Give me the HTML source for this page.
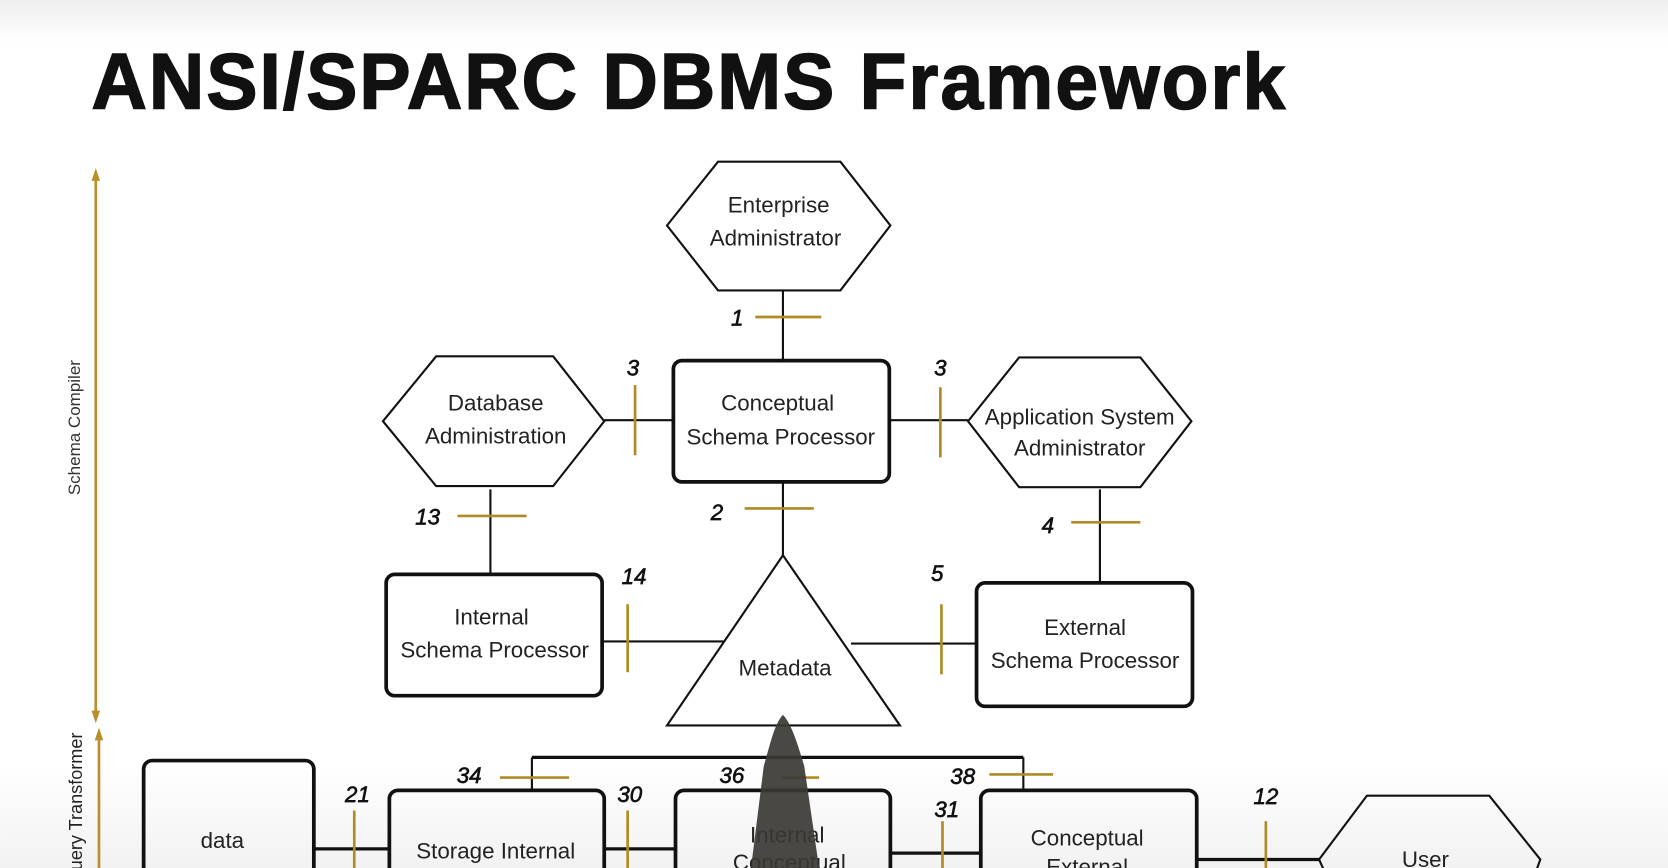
<!DOCTYPE html>
<html><head><meta charset="utf-8"><style>
html,body{margin:0;padding:0;width:1668px;height:868px;overflow:hidden;background:#fff}
svg{display:block}
text{font-family:"Liberation Sans",sans-serif}
</style></head><body>
<svg width="1668" height="868" viewBox="0 0 1568 816" xmlns="http://www.w3.org/2000/svg">
<defs>
<linearGradient id="bg" x1="0" y1="0" x2="0" y2="1">
<stop offset="0" stop-color="#efefef"/><stop offset="0.05" stop-color="#fff"/>
<stop offset="0.88" stop-color="#fff"/><stop offset="1" stop-color="#f2f2f2"/>
</linearGradient>
</defs>
<rect width="1568" height="816" fill="url(#bg)"/>
<text x="86" y="102" font-size="74" font-weight="bold" letter-spacing="2" fill="#111" stroke="#111" stroke-width="1.5" textLength="1124" lengthAdjust="spacingAndGlyphs">ANSI/SPARC DBMS Framework</text>

<g stroke="#b8902a" stroke-width="2.5" fill="#b8902a">
<line x1="90" y1="162" x2="90" y2="676"/>
<polygon points="86,170 90,158 94,170" stroke="none"/>
<polygon points="86,668 90,680 94,668" stroke="none"/>
<line x1="93" y1="688" x2="93" y2="816"/>
<polygon points="89,696 93,684 97,696" stroke="none"/>
</g>
<text transform="translate(75,402) rotate(-90)" font-size="16" fill="#333" text-anchor="middle">Schema Compiler</text>
<text transform="translate(77,760) rotate(-90)" font-size="17" fill="#222" text-anchor="middle">Query Transformer</text>

<g fill="none" stroke="#111" stroke-width="2">
<polygon points="627,212 675,152 790,152 837,212 790,273 675,273"/>
<polygon points="360,396 410,335 520,335 568,396 520,457 410,457"/>
<polygon points="910,396 958,336 1072,336 1120,396 1072,458 958,458"/>
<polygon points="1240,808 1285,748 1400,748 1448,808 1440,830 1250,830"/>
<rect x="633" y="339" width="203" height="114" rx="8" stroke-width="3.5"/>
<rect x="363" y="540" width="203" height="114" rx="8" stroke-width="3.5"/>
<rect x="918" y="548" width="203" height="116" rx="8" stroke-width="3.5"/>
<rect x="135" y="715" width="160" height="130" rx="8" stroke-width="3.5"/>
<rect x="366" y="743" width="202" height="110" rx="8" stroke-width="3.5"/>
<rect x="635" y="743" width="202" height="110" rx="8" stroke-width="3.5"/>
<rect x="922" y="743" width="203" height="110" rx="8" stroke-width="3.5"/>
<polygon points="736,522 627,682 846,682"/>
<line x1="736" y1="273" x2="736" y2="339"/>
<line x1="568" y1="395" x2="633" y2="395"/>
<line x1="836" y1="395" x2="910" y2="395"/>
<line x1="736" y1="453" x2="736" y2="522"/>
<line x1="461" y1="460" x2="461" y2="540"/>
<line x1="566" y1="603" x2="680" y2="603"/>
<line x1="1034" y1="460" x2="1034" y2="548"/>
<line x1="800" y1="605" x2="918" y2="605"/>
<line x1="500" y1="712" x2="962" y2="712" stroke-width="3"/>
<line x1="500" y1="712" x2="500" y2="743"/>
<line x1="962" y1="712" x2="962" y2="743"/>
<line x1="295" y1="798" x2="366" y2="798" stroke-width="3"/>
<line x1="568" y1="798" x2="635" y2="798" stroke-width="3"/>
<line x1="837" y1="802" x2="922" y2="802" stroke-width="3"/>
<line x1="1125" y1="808" x2="1240" y2="808" stroke-width="3"/>
</g>
<g stroke="#b08a24" stroke-width="2.5">
<line x1="710" y1="298" x2="772" y2="298"/>
<line x1="597" y1="362" x2="597" y2="428"/>
<line x1="884" y1="364" x2="884" y2="430"/>
<line x1="700" y1="478" x2="765" y2="478"/>
<line x1="430" y1="485" x2="495" y2="485"/>
<line x1="590" y1="568" x2="590" y2="632"/>
<line x1="1007" y1="491" x2="1072" y2="491"/>
<line x1="885" y1="568" x2="885" y2="634"/>
<line x1="470" y1="731" x2="535" y2="731"/>
<line x1="735" y1="731" x2="770" y2="731"/>
<line x1="930" y1="728" x2="990" y2="728"/>
<line x1="333" y1="762" x2="333" y2="816"/>
<line x1="590" y1="762" x2="590" y2="816"/>
<line x1="886" y1="772" x2="886" y2="816"/>
<line x1="1190" y1="772" x2="1190" y2="816"/>
</g>
<g font-size="21" fill="#222" text-anchor="middle">
<text x="732" y="200">Enterprise</text><text x="729" y="231">Administrator</text>
<text x="466" y="386">Database</text><text x="466" y="417">Administration</text>
<text x="731" y="386">Conceptual</text><text x="734" y="418">Schema Processor</text>
<text x="1015" y="399">Application System</text><text x="1015" y="428">Administrator</text>
<text x="462" y="587">Internal</text><text x="465" y="618">Schema Processor</text>
<text x="1020" y="597">External</text><text x="1020" y="628">Schema Processor</text>
<text x="738" y="635">Metadata</text>
<text x="209" y="797">data</text>
<text x="466" y="807">Storage Internal</text>
<text x="740" y="792">Internal</text><text x="742" y="818">Conceptual</text>
<text x="1022" y="795">Conceptual</text><text x="1022" y="822">External</text>
<text x="1340" y="815">User</text>
</g>
<g font-size="21" font-style="italic" fill="#111" stroke="#111" stroke-width="0.6" text-anchor="middle">
<text x="693" y="306">1</text><text x="595" y="353">3</text><text x="884" y="353">3</text>
<text x="674" y="489">2</text><text x="402" y="493">13</text><text x="596" y="549">14</text>
<text x="985" y="501">4</text><text x="881" y="546">5</text>
<text x="441" y="736">34</text><text x="688" y="736">36</text><text x="905" y="737">38</text>
<text x="336" y="754">21</text><text x="592" y="754">30</text><text x="890" y="768">31</text><text x="1190" y="756">12</text>
</g>
<path d="M736,672 C728,680 724,700 718,720 L706,816 L770,816 L756,720 C750,700 744,680 736,672 Z" fill="#3a3834" opacity="0.92"/>
</svg>
</body></html>
